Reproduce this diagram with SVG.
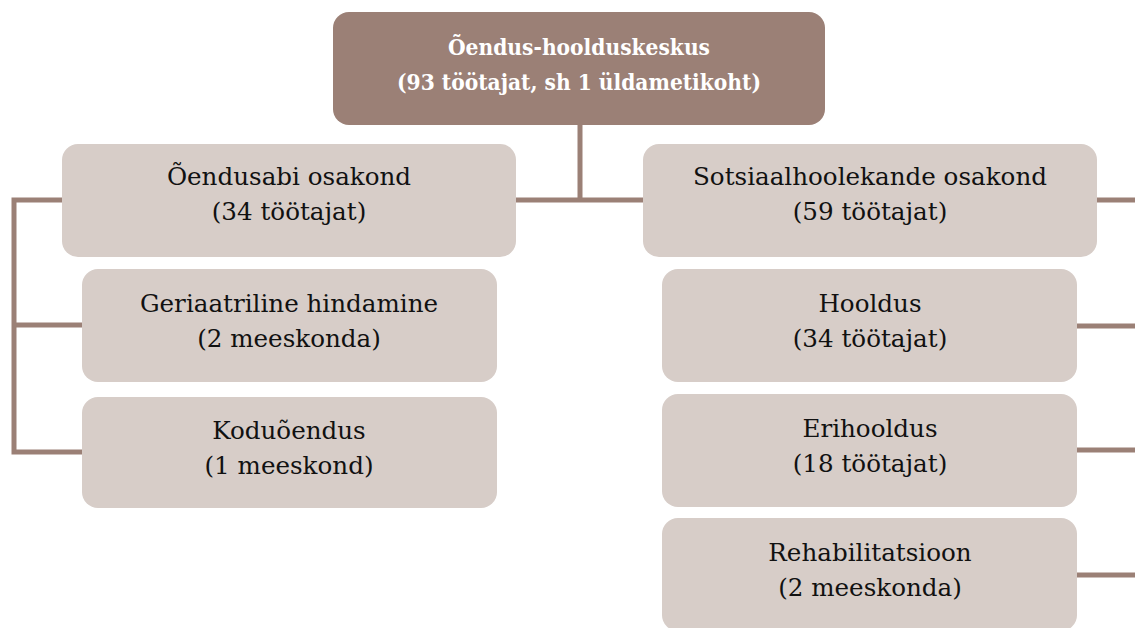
<svg xmlns="http://www.w3.org/2000/svg" width="1135" height="628" viewBox="0 0 1135 628">
<style>
.top{fill:#9b8076}
.box{fill:#d7cdc8}
.t{font-family:"DejaVu Serif","Liberation Serif",serif;font-size:24.6px;fill:#111;text-anchor:middle}
.tb{font-family:"DejaVu Serif Condensed","DejaVu Serif","Liberation Serif",serif;font-stretch:condensed;font-size:22.5px;font-weight:bold;fill:#fff;text-anchor:middle}
.c{stroke:#9b8076;stroke-width:5;fill:none}
</style>
<rect width="1135" height="628" fill="#fff"/>
<g id="connectors">
<path class="c" d="M580 125V200M516 200H643"/>
<path class="c" d="M62 200H14V452H82M14 325H82"/>
<path class="c" d="M1097 200H1135M1077 326H1135M1077 450H1135M1077 575H1135"/>
</g>
<g id="root">
<rect class="top" x="333" y="12" width="492" height="113" rx="16"/>
<text class="tb" x="579" y="55">Õendus-hoolduskeskus</text>
<text class="tb" x="579" y="90">(93 töötajat, sh 1 üldametikoht)</text>
</g>
<g id="oendusabi">
<rect class="box" x="62" y="144" width="454" height="113" rx="16"/>
<text class="t" x="289" y="185">Õendusabi osakond</text>
<text class="t" x="289" y="220">(34 töötajat)</text>
</g>
<g id="geriaatriline">
<rect class="box" x="82" y="269" width="415" height="113" rx="16"/>
<text class="t" x="289" y="312">Geriaatriline hindamine</text>
<text class="t" x="289" y="347">(2 meeskonda)</text>
</g>
<g id="koduoendus">
<rect class="box" x="82" y="397" width="415" height="111" rx="16"/>
<text class="t" x="289" y="439">Koduõendus</text>
<text class="t" x="289" y="474">(1 meeskond)</text>
</g>
<g id="sotsiaal">
<rect class="box" x="643" y="144" width="454" height="113" rx="16"/>
<text class="t" x="870" y="185">Sotsiaalhoolekande osakond</text>
<text class="t" x="870" y="220">(59 töötajat)</text>
</g>
<g id="hooldus">
<rect class="box" x="662" y="269" width="415" height="113" rx="16"/>
<text class="t" x="870" y="312">Hooldus</text>
<text class="t" x="870" y="347">(34 töötajat)</text>
</g>
<g id="erihooldus">
<rect class="box" x="662" y="394" width="415" height="113" rx="16"/>
<text class="t" x="870" y="437">Erihooldus</text>
<text class="t" x="870" y="472">(18 töötajat)</text>
</g>
<g id="rehab">
<rect class="box" x="662" y="518" width="415" height="113" rx="16"/>
<text class="t" x="870" y="561">Rehabilitatsioon</text>
<text class="t" x="870" y="596">(2 meeskonda)</text>
</g>
</svg>
